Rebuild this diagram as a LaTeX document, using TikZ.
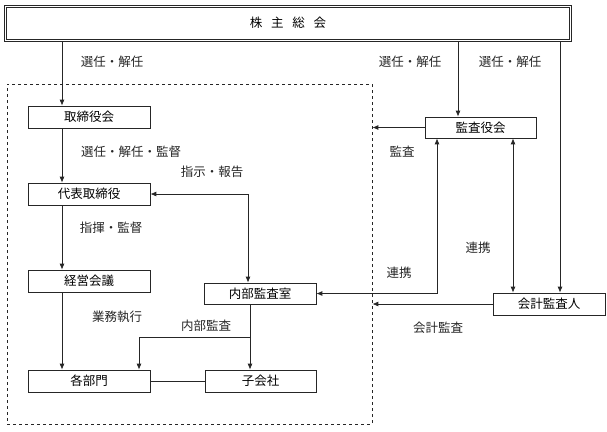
\documentclass[tikz,border=0pt]{standalone}
\usepackage{fontspec}
\newfontfamily\jpfont{Noto Sans CJK JP}
\usetikzlibrary{arrows.meta}
\begin{document}
\begin{tikzpicture}[x=1pt,y=-1pt,>={Latex[length=6pt,width=5pt]},font=\jpfont\fontsize{12.5}{13}\selectfont]
        \tikzstyle{organ}=[draw=black!85,line width=0.7pt,inner sep=0pt,minimum height=22pt]
        \tikzstyle{edge}=[draw=black!85,line width=0.8pt]
        \tikzstyle{tag}=[inner sep=1pt,text=black!85]
        \useasboundingbox (0,0) rectangle (607,431);
       \begin{scope}
         % boxes
         \node [organ,line width=1pt,minimum width=567pt,minimum height=36pt] (soukai) at (288,23) {株\hspace{0.7em}主\hspace{0.7em}総\hspace{0.7em}会};
         \draw [black!85,line width=0.6pt] ([shift={(2.5,2.5)}]soukai.north west) rectangle ([shift={(-2.5,-2.5)}]soukai.south east);
         \node [draw=black!85,dashed,line width=0.7pt,inner sep=0pt,minimum width=365pt,minimum height=340pt] (grp) at (189.5,254) {};
         \node [organ,minimum width=122pt] (torishimari) at (89,117) {取締役会};
         \node [organ,minimum width=122pt] (daihyo) at (89,194) {代表取締役};
         \node [organ,minimum width=122pt] (keiei) at (89,281) {経営会議};
         \node [organ,minimum width=122pt] (kakubu) at (89,381) {各部門};
         \node [organ,minimum width=112pt,minimum height=21pt] (naibu) at (260,293.5) {内部監査室};
         \node [organ,minimum width=111pt] (kogaisha) at (260.5,381) {子会社};
         \node [organ,minimum width=111pt,minimum height=21pt] (kansayaku) at (480.5,127.5) {監査役会};
         \node [organ,minimum width=112pt] (kaikei) at (549,304) {会計監査人};

         \coordinate (xl) at (62,0);
         \coordinate (xd) at (248,0);
         \coordinate (xk) at (458,0);
         \coordinate (xr) at (560,0);
         \coordinate (xn) at (437,0);
         \coordinate (xa) at (513,0);
         \coordinate (xs) at (250,0);
         \coordinate (xb) at (139,0);
         \coordinate (br) at (250,337);

         % connectors
         \path[edge,->] (soukai.south -| xl) -- (torishimari.north -| xl);
         \path[edge,->] (torishimari.south -| xl) -- (daihyo.north -| xl);
         \path[edge,->] (daihyo.south -| xl) -- (keiei.north -| xl);
         \path[edge,->] (keiei.south -| xl) -- (kakubu.north -| xl);
         \path[edge,<->] (daihyo.east) -| (xd |- naibu.north);
         \path[edge,->] (naibu.south -| xs) -- (kogaisha.north -| xs);
         \path[edge,->] (br) -| (xb |- kakubu.north);
         \path[edge] (kakubu.east) -- (kogaisha.west);

         \path[edge,->] (soukai.south -| xk) -- (kansayaku.north -| xk);
         \path[edge,->] (soukai.south -| xr) -- (kaikei.north -| xr);
         \path[edge,->] (kansayaku.west) -- (kansayaku.west -| grp.east);
         \path[edge,<->] (kansayaku.south -| xn) |- (naibu.east);
         \path[edge,<->] (kansayaku.south -| xa) -- (kaikei.north -| xa);
         \path[edge,->] (kaikei.west) -- (kaikei.west -| grp.east);

         % labels
         \node [tag] (l1) at (112,62) {選任・解任};
         \node [tag] (l2) at (410,62) {選任・解任};
         \node [tag] (l3) at (510,62) {選任・解任};
         \node [tag] (l4) at (131,152) {選任・解任・監督};
         \node [tag] (l5) at (212,172) {指示・報告};
         \node [tag] (l6) at (111,228) {指揮・監督};
         \node [tag] (l7) at (117,317) {業務執行};
         \node [tag] (l8) at (206,326) {内部監査};
         \node [tag] (l9) at (402,152) {監査};
         \node [tag] (l10) at (399,273) {連携};
         \node [tag] (l11) at (478,248) {連携};
         \node [tag] (l12) at (438,328) {会計監査};
        \end{scope}
      \end{tikzpicture}
\end{document}
